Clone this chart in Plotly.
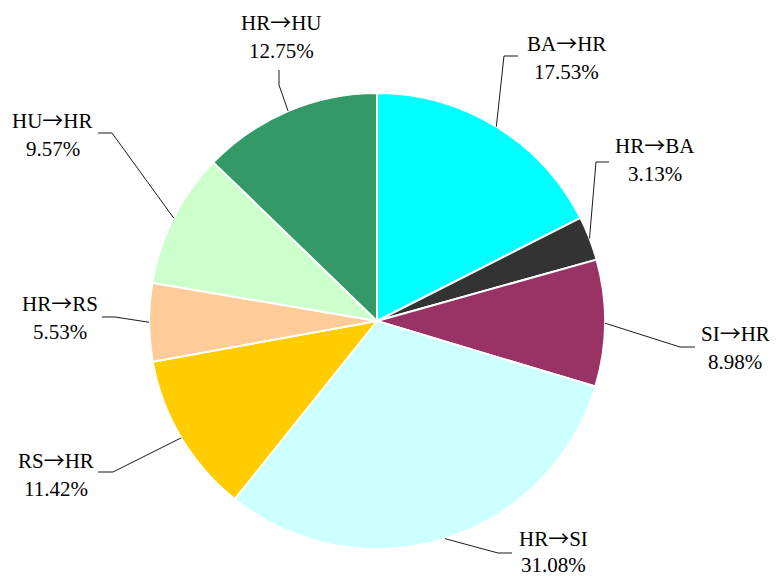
import math
import plotly.graph_objects as go

# ---- data ----
labels = ["BA→HR", "HR→BA", "SI→HR", "HR→SI", "RS→HR", "HR→RS", "HU→HR", "HR→HU"]
values = [17.53, 3.13, 8.98, 31.08, 11.42, 5.53, 9.57, 12.75]
colors = ["#00FFFF", "#333333", "#993366", "#CCFFFF", "#FFCC00", "#FFCC99", "#CCFFCC", "#339966"]

# ---- layout (pixels) ----
W, H = 776, 578
CX, CY, R = 377, 321, 228
FONT = "Liberation Serif, Times New Roman, serif"
FS = 21

# label text-block centres, line gaps and leader elbow/end points (layout only)
label_center = [(566, 57), (655, 159), (735, 347), (553, 551),
                (56, 474), (60, 317), (53, 134), (281, 36)]
half_gap = [15, 15, 15, 14, 15, 15, 15, 15]
leader_pts = [[(504, 56), (518, 56)],
              [(596, 162), (609, 162)],
              [(680, 347), (695, 347)],
              [(498, 553), (512, 553)],
              [(113, 472), (98, 472)],
              [(115, 317), (102, 317)],
              [(112, 133), (98, 133)],
              [(279, 85), (279, 70)]]


def px(x):
    return x / W


def py(y):
    return 1 - y / H


def fmt_label(s):
    return s.replace("→", "<span style=\"font-family:'Noto Sans CJK SC'\">→</span>")


fig = go.Figure(go.Pie(
    labels=labels, values=values, sort=False, direction="clockwise", rotation=0,
    marker=dict(colors=colors, line=dict(color="white", width=2)),
    textinfo="none", hoverinfo="label+percent", showlegend=False,
    domain=dict(x=[px(CX - R), px(CX + R)], y=[py(CY + R), py(CY - R)]),
))

total = sum(values)
cum = 0.0
shapes = []
annotations = []
for i, v in enumerate(values):
    mid = (cum + v / 2) / total * 2 * math.pi
    cum += v
    ex = CX + R * math.sin(mid)
    ey = CY - R * math.cos(mid)
    pts = [(ex, ey)] + leader_pts[i]
    path = "M " + " L ".join(f"{px(x):.5f},{py(y):.5f}" for x, y in pts)
    shapes.append(dict(type="path", path=path, xref="paper", yref="paper",
                       line=dict(color="#1a1a1a", width=1)))
    lx, ly = label_center[i]
    g = half_gap[i]
    annotations.append(dict(x=px(lx), y=py(ly - g), xref="paper", yref="paper",
                            text=fmt_label(labels[i]), showarrow=False,
                            xanchor="center", yanchor="middle", borderpad=0,
                            font=dict(family=FONT, size=FS, color="#000000")))
    annotations.append(dict(x=px(lx), y=py(ly + g), xref="paper", yref="paper",
                            text=f"{v:.2f}%", showarrow=False, xanchor="center", yanchor="middle",
                            borderpad=0,
                            font=dict(family=FONT, size=FS, color="#000000")))

fig.update_layout(
    width=W, height=H, margin=dict(l=0, r=0, t=0, b=0),
    paper_bgcolor="white", plot_bgcolor="white",
    shapes=shapes, annotations=annotations,
    font=dict(family=FONT, size=FS),
)
fig.write_html("out.html", config={"displayModeBar": False},
               post_script="document.body.style.margin='0';document.body.style.overflow='hidden';")
